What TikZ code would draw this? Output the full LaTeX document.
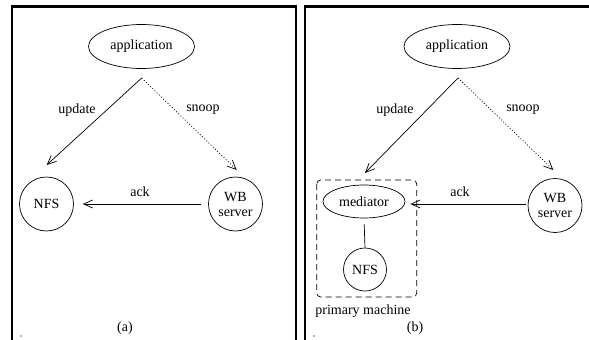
\documentclass[tikz,border=0pt]{standalone}
\usepackage{fontspec}
\setmainfont{Liberation Serif}
\usetikzlibrary{arrows.meta,shapes.geometric}

\begin{document}
\begin{tikzpicture}[x=1pt,y=-1pt,
  font=\fontsize{14}{15}\selectfont,
  panelframe/.style={line width=2.6pt},
  flow/.style={-{Straight Barb[length=9pt,width=8pt]}, line width=0.7pt},
  snoopflow/.style={flow, dash pattern=on 1pt off 2pt},
  appnode/.style={ellipse, draw, line width=0.7pt, minimum width=106pt, minimum height=44pt, inner sep=0pt},
  mednode/.style={ellipse, draw, line width=0.7pt, minimum width=82pt, minimum height=33pt, inner sep=0pt},
  hostnode/.style={circle, draw, line width=0.7pt, minimum size=54pt, inner sep=0pt, align=center},
  smallhost/.style={hostnode, minimum size=43pt},
  machinebox/.style={draw, line width=0.7pt, dash pattern=on 6pt off 4pt, rounded corners=4pt},
  speck/.style={fill=black!30, draw=none}
]
\useasboundingbox (0,0) rectangle (589,340);

% panel frames
\draw[panelframe] (12,342) -- (12,6.5) -- (296,6.5) -- (296,342);
\draw[panelframe] (305,342) -- (305,6.5) -- (592,6.5);

% ---------- panel (a) ----------
\node[appnode] (appA) at (141.5,46.5) {application};
\node[hostnode] (nfsA) at (46.5,204) {NFS};
\node[hostnode] (wbA) at (235.5,204) {WB\\server};
\coordinate (srcA) at (141.7,78);
\coordinate (updA) at (46.7,165);
\coordinate (snpA) at (236.7,170);

\draw[flow] (srcA) -- (updA);
\draw[snoopflow] (srcA) -- (snpA);
\draw[flow, shorten <=7pt, shorten >=9pt] (wbA.west) -- (nfsA.east);

\node (updlabA) at (77,110) {update};
\node (snplabA) at (203,110) {snoop};
\node (acklabA) at (140,192) {ack};
\node (capA) at (125,328) {(a)};
\fill[speck] (19.5,334.5) rectangle (21.5,336.5);

% ---------- panel (b) ----------
\node[appnode] (appB) at (457,46.5) {application};
\node[mednode] (medB) at (364,201.5) {mediator};
\node[smallhost] (nfsB) at (365,269.5) {NFS};
\node[hostnode] (wbB) at (555,205.5) {WB\\server};
\coordinate (srcB) at (458,78);
\coordinate (updB) at (365,173);
\coordinate (snpB) at (553.3,170);

\draw[machinebox] (316.7,180) rectangle (416.7,297);
\draw[flow] (srcB) -- (updB);
\draw[snoopflow] (srcB) -- (snpB);
\draw[flow, shorten <=1.5pt, shorten >=5pt] (wbB.west |- 0,204) -- (medB.east |- 0,204);
\draw[line width=0.7pt, shorten <=6pt] (medB.south) -- (nfsB.north);

\node (updlabB) at (395,110) {update};
\node (snplabB) at (523,110) {snoop};
\node (acklabB) at (460,192) {ack};
\node (boxlab) at (363,311) {primary machine};
\node (capB) at (415,328) {(b)};
\fill[speck] (312.5,334.5) rectangle (314.5,336.5);
\end{tikzpicture}
\end{document}
